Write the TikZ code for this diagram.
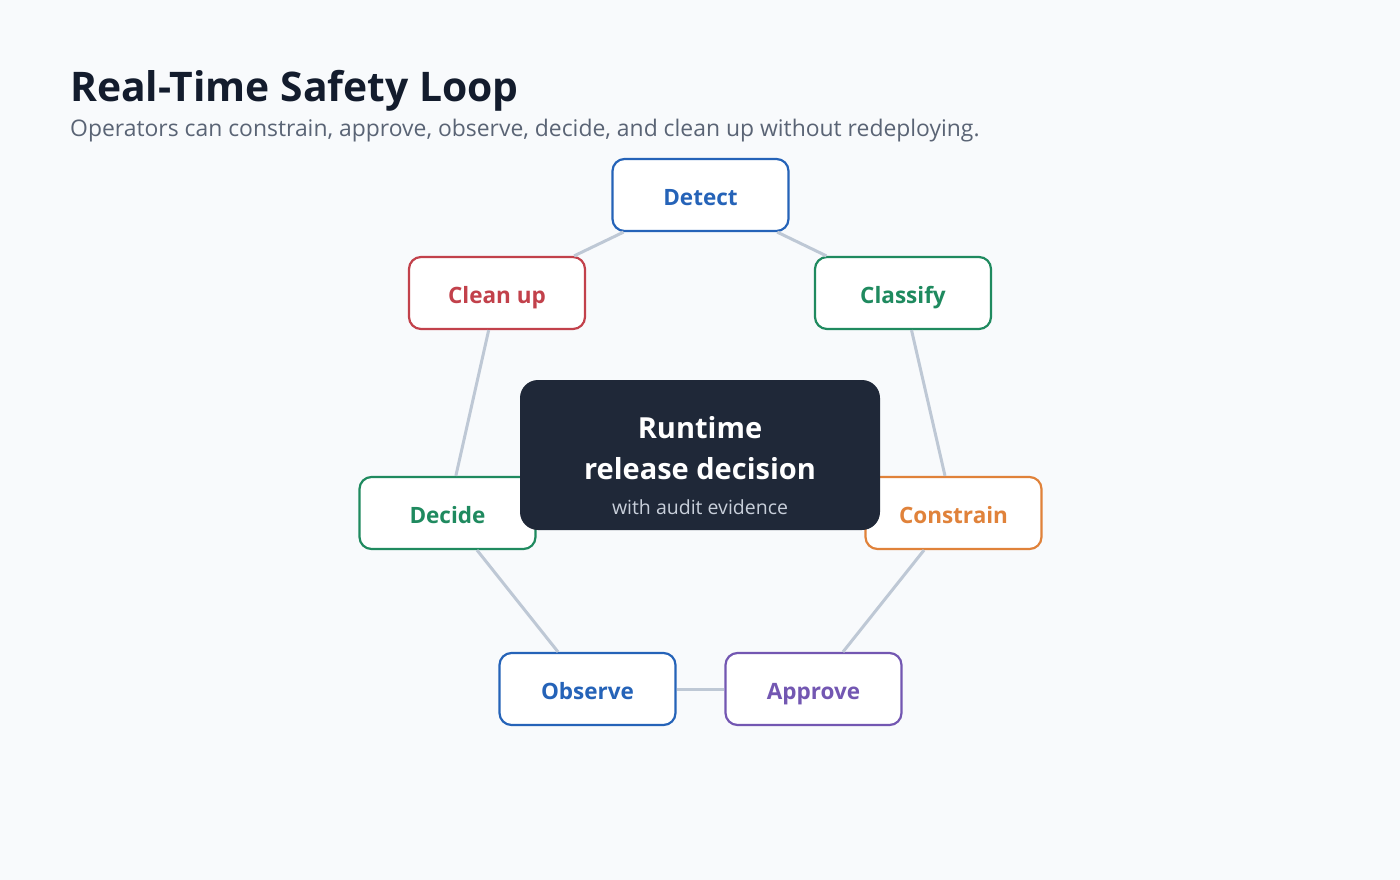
\documentclass[tikz,border=0pt]{standalone}
\usepackage{fontspec}
\IfFontExistsTF{Noto Sans Bold}
  {\setmainfont{Noto Sans}[BoldFont={Noto Sans Bold}]}
  {\setmainfont{Open Sans}}
\usetikzlibrary{positioning}

\definecolor{bgcol}{HTML}{F8FAFC}
\definecolor{titlecol}{HTML}{131C2D}
\definecolor{subcol}{HTML}{5A6475}
\definecolor{corecol}{HTML}{1F2838}
\definecolor{corenote}{HTML}{C8CFDA}
\definecolor{linkcol}{HTML}{BEC8D5}
\definecolor{stepblue}{HTML}{2563B8}
\definecolor{stepgreen}{HTML}{1F8A5F}
\definecolor{stepred}{HTML}{C2414B}
\definecolor{steporange}{HTML}{E0823A}
\definecolor{steppurple}{HTML}{7357B2}

\tikzset{
  stepbox/.style={draw=#1, text=#1, fill=white, line width=2.2pt, rounded corners=12pt,
    minimum width=176pt, minimum height=72pt, inner sep=0pt, text height=20pt, text depth=0pt,
    font=\fontsize{22.5}{27}\selectfont\bfseries},
  link/.style={draw=linkcol, line width=3pt},
  corebox/.style={fill=corecol, rounded corners=18pt, minimum width=360pt, minimum height=150pt}
}

\begin{document}
\begin{tikzpicture}[x=1pt,y=-1pt]

        \fill[bgcol] (0,0) rectangle (1400,880);

        \node [anchor=base west, inner sep=0pt, text=titlecol] (title) at (70,102) {\fontsize{40.8}{49}\selectfont\bfseries Real-Time Safety Loop};
        \node [anchor=base west, inner sep=0pt, text=subcol] (subtitle) at (70,136.5) {\fontsize{22.9}{27}\selectfont Operators can constrain, approve, observe, decide, and clean up without redeploying.};

        % the loop
        \node [stepbox=stepblue] (detect) at (700.5,195) {Detect};
        \node [stepbox=stepgreen] (classify) at (903,293) {Classify};
        \node [stepbox=steporange] (constrain) at (953.5,513) {Constrain};
        \node [stepbox=steppurple] (approve) at (813.5,689) {Approve};
        \node [stepbox=stepblue] (observe) at (587.5,689) {Observe};
        \node [stepbox=stepgreen] (decide) at (447.5,513) {Decide};
        \node [stepbox=stepred] (cleanup) at (497,293) {Clean up};

        \foreach \a/\b in {detect/classify, classify/constrain, constrain/approve, approve/observe, observe/decide, decide/cleanup, cleanup/detect}
            \draw [link] (\a) -- (\b);

        % centre
        \node [corebox] (core) at (700,455) {};
        \node [anchor=base, text=white] (coretop) at (700,438) {\fontsize{29}{35}\selectfont\bfseries Runtime};
        \node [anchor=base, text=white] (coremid) at (700,479) {\fontsize{29}{35}\selectfont\bfseries release decision};
        \node [anchor=base, text=corenote] (corenote) at (700,514) {\fontsize{19.5}{23}\selectfont with audit evidence};

\end{tikzpicture}
\end{document}
